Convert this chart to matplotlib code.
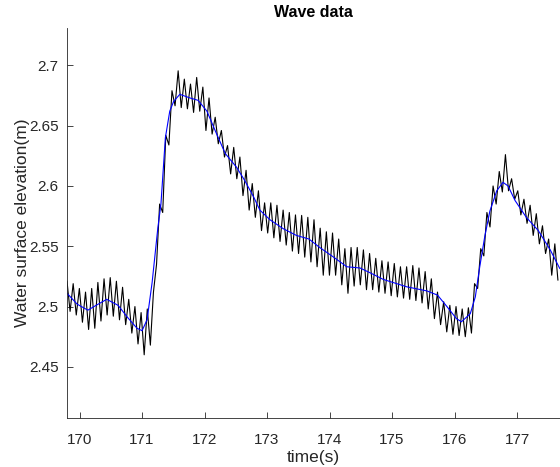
import numpy as np
import matplotlib
matplotlib.use('Agg')
import matplotlib.pyplot as plt

plt.rcParams['font.family'] = ['Liberation Sans', 'DejaVu Sans']

# Measured water surface (black) - alternating crest / trough values,
# read off the chart, one every half wave period
t_start = 169.80
half_period = 0.0494
wave_elev = [
    2.521, 2.496, 2.519, 2.493, 2.515, 2.487, 2.512, 2.481, 2.515, 2.482,
    2.520, 2.488, 2.523, 2.493, 2.524, 2.492, 2.521, 2.489, 2.516, 2.485,
    2.506, 2.478, 2.500, 2.469, 2.495, 2.460, 2.498, 2.468, 2.512, 2.535,
    2.585, 2.578, 2.642, 2.634, 2.679, 2.6665, 2.6955, 2.665, 2.6886, 2.664,
    2.6845, 2.661, 2.690, 2.662, 2.682, 2.646, 2.673, 2.643, 2.657, 2.635,
    2.646, 2.624, 2.6335, 2.610, 2.632, 2.606, 2.624, 2.592, 2.613, 2.580,
    2.602, 2.574, 2.596, 2.563, 2.586, 2.561, 2.586, 2.557, 2.584, 2.554,
    2.580, 2.551, 2.578, 2.546, 2.576, 2.544, 2.5756, 2.541, 2.574, 2.537,
    2.572, 2.533, 2.565, 2.526, 2.562, 2.526, 2.561, 2.526, 2.556, 2.518,
    2.548, 2.511, 2.549, 2.517, 2.549, 2.518, 2.547, 2.514, 2.544, 2.514,
    2.540, 2.512, 2.538, 2.511, 2.537, 2.509, 2.5357, 2.508, 2.533, 2.507,
    2.533, 2.506, 2.534, 2.505, 2.532, 2.503, 2.529, 2.498, 2.523, 2.490,
    2.512, 2.485, 2.504, 2.479, 2.501, 2.477, 2.500, 2.476, 2.498, 2.475,
    2.499, 2.478, 2.519, 2.515, 2.548, 2.542, 2.578, 2.566, 2.600, 2.585,
    2.612, 2.595, 2.626, 2.596, 2.606, 2.589, 2.596, 2.576, 2.589, 2.569,
    2.584, 2.559, 2.577, 2.552, 2.567, 2.544, 2.556, 2.526, 2.552, 2.522,
]
wave_time = t_start + half_period * np.arange(len(wave_elev))

# Filtered (mean) water level - blue
mean_time = [169.801, 169.962, 170.134, 170.265, 170.436, 170.618, 170.769,
             170.920, 171.001, 171.081, 171.162, 171.253, 171.303, 171.374,
             171.444, 171.505, 171.605, 171.767, 171.898, 172.039, 172.170,
             172.331, 172.513, 172.644, 172.785, 172.886, 173.047, 173.259,
             173.470, 173.672, 173.843, 174.065, 174.277, 174.488, 174.650,
             174.861, 175.234, 175.557, 175.728, 175.879, 176.031, 176.111,
             176.252, 176.333, 176.404, 176.484, 176.565, 176.676, 176.776,
             176.857, 176.968, 177.149, 177.341, 177.532, 177.684]
mean_elev = [2.511, 2.502, 2.497, 2.501, 2.506, 2.501, 2.491,
             2.482, 2.480, 2.489, 2.520, 2.565, 2.585, 2.640,
             2.662, 2.670, 2.676, 2.673, 2.671, 2.662, 2.646,
             2.627, 2.6155, 2.6045, 2.591, 2.580, 2.572, 2.5646,
             2.559, 2.556, 2.549, 2.541, 2.533, 2.532, 2.528,
             2.5225, 2.5164, 2.513, 2.5095, 2.500, 2.490, 2.4874,
             2.494, 2.508, 2.533, 2.558, 2.579, 2.596, 2.603,
             2.600, 2.588, 2.574, 2.563, 2.547, 2.5316]

x_ticks = [170, 171, 172, 173, 174, 175, 176, 177]
y_ticks = [2.45, 2.5, 2.55, 2.6, 2.65, 2.7]

fig = plt.figure(figsize=(5.6, 4.67), dpi=100)
ax = fig.add_axes([67 / 560, 49.5 / 467, 1 - 67 / 560, 389.5 / 467])

ax.plot(wave_time, wave_elev, color='black', lw=0.8)
ax.plot(mean_time, mean_elev, color='blue', lw=0.8)

ax.set_xlim(169.80, 177.688)
ax.set_ylim(2.408, 2.731)
ax.set_xticks(x_ticks)
ax.set_xticklabels([str(x) for x in x_ticks])
ax.set_yticks(y_ticks)
ax.set_yticklabels(['%g' % y for y in y_ticks])

ax.spines['top'].set_visible(False)
ax.spines['right'].set_visible(False)
for s in ['left', 'bottom']:
    ax.spines[s].set_color('#262626')
    ax.spines[s].set_linewidth(0.6)
ax.tick_params(direction='in', length=4, width=0.6, colors='#262626',
               labelsize=11)
ax.tick_params(axis='x', pad=11.5)
ax.tick_params(axis='y', pad=6)

ax.set_title('Wave data', fontsize=11.5, fontweight='bold', pad=8)
ax.set_xlabel('time(s)', fontsize=12.5, color='#262626', labelpad=2)
ax.set_ylabel('Water surface elevation(m)', fontsize=12.5, color='#262626',
              labelpad=-1)

fig.savefig('out.png', dpi=100)
